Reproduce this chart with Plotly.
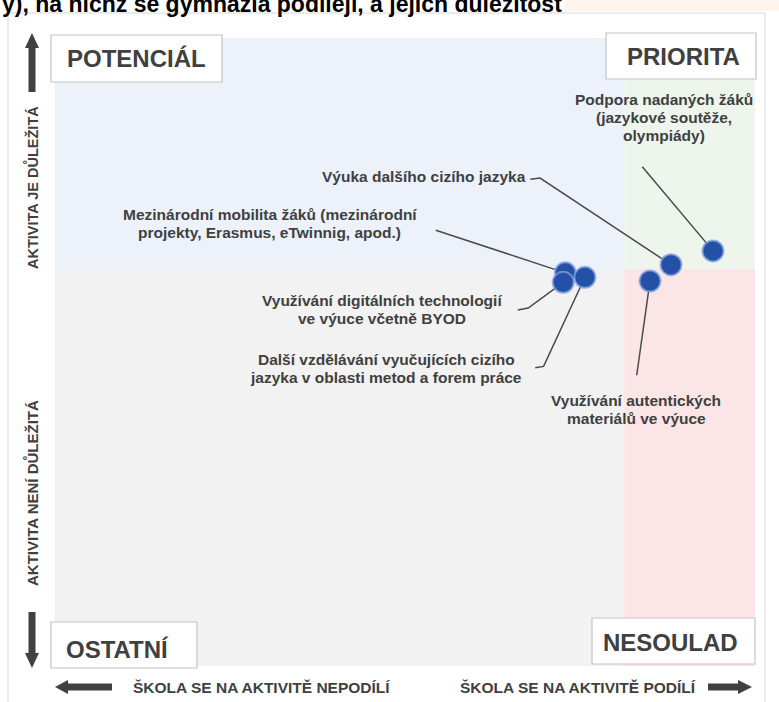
import plotly.graph_objs as go

# activities (x = share of schools taking part, y = importance)
activities = ['Mezinárodní mobilita žáků (mezinárodní<br>projekty, Erasmus, eTwinnig, apod.)',
    'Využívání digitálních technologií<br>ve výuce včetně BYOD',
    'Další vzdělávání vyučujících cizího<br>jazyka v oblasti metod a forem práce',
    'Využívání autentických<br>materiálů ve výuce',
    'Výuka dalšího cizího jazyka',
    'Podpora nadaných žáků<br>(jazykové soutěže,<br>olympiády)']
participation = [72.9, 72.6, 75.7, 85.0, 88.0, 94.0]
importance = [62.6, 61.1, 61.9, 61.3, 63.9, 66.1]

split_x = 81.3
split_y = 63.2

quadrants = ['POTENCIÁL', 'PRIORITA', 'OSTATNÍ', 'NESOULAD']
axis_labels = ['AKTIVITA JE DŮLEŽITÁ', 'AKTIVITA NENÍ DŮLEŽITÁ',
    'ŠKOLA SE NA AKTIVITĚ NEPODÍLÍ', 'ŠKOLA SE NA AKTIVITĚ PODÍLÍ']
title = 'y), na nichž se gymnázia podílejí, a jejich důležitost'

# label placement: (x, y, xanchor) and leader line start (data units)
label_pos = [(30.7, 70.5, 'center'), (46.7, 56.7, 'center'), (47.3, 47.3, 'center'),
             (83.0, 40.9, 'center'), (67.6, 77.9, 'right'), (87.0, 87.3, 'center')]
leader_start = [[(54.4, 69.4)],
                [(66.1, 56.7), (67.6, 57.0)],
                [(68.6, 47.5), (69.8, 47.7)],
                [(83.1, 46.3)],
                [(67.9, 77.5), (69.3, 77.7)],
                [(83.9, 79.5)]]
line_gap = 18  # px between label lines

W, H = 779, 702
L, R, T, B = 55, 755, 38, 666
FONT = 'Liberation Sans, Arial, sans-serif'
DARK = '#404040'


def px(x):
    return (x - L) / (R - L)


def py(y):
    return (B - y) / (B - T)


def path(pts):
    return 'M ' + ' L '.join('%.4f,%.4f' % (px(a), py(b)) for a, b in pts) + ' Z'


data = []
for i in range(len(activities)):
    xs = [p[0] for p in leader_start[i]] + [participation[i]]
    ys = [p[1] for p in leader_start[i]] + [importance[i]]
    data.append(go.Scatter(x=xs, y=ys, mode='lines', hoverinfo='skip',
                           line=dict(color='#4a4a4a', width=1.5)))
data.append(go.Scatter(x=participation, y=importance, mode='markers',
                       text=activities, hoverinfo='text',
                       marker=dict(size=21, color='#2451a6',
                                   line=dict(color='rgba(130,160,225,0.75)', width=2))))

shapes = [
    dict(type='rect', xref='x', yref='y', x0=0, x1=split_x, y0=split_y, y1=100,
         fillcolor='#edf2fa', line=dict(width=0), layer='below'),
    dict(type='rect', xref='x', yref='y', x0=split_x, x1=100, y0=split_y, y1=100,
         fillcolor='#eef5ec', line=dict(width=0), layer='below'),
    dict(type='rect', xref='x', yref='y', x0=0, x1=split_x, y0=0, y1=split_y,
         fillcolor='#f2f2f2', line=dict(width=0), layer='below'),
    dict(type='rect', xref='x', yref='y', x0=split_x, x1=100, y0=0, y1=split_y,
         fillcolor='#fce5e6', line=dict(width=0), layer='below'),
    # outer frame and title strip
    dict(type='rect', xref='paper', yref='paper', x0=px(565), x1=px(779), y0=py(11), y1=py(0),
         fillcolor='#fdf5ec', line=dict(width=0), layer='below'),
    dict(type='rect', xref='paper', yref='paper', x0=px(8), x1=px(765), y0=py(712), y1=py(13),
         fillcolor='rgba(0,0,0,0)', line=dict(color='#d6d6d6', width=1)),
]

# quadrant name boxes
boxes = [(51, 222, 35, 82), (606, 756, 33, 79), (51, 197, 622, 668), (592, 755, 618, 664)]
for x0, x1, y0, y1 in boxes:
    shapes.append(dict(type='rect', xref='paper', yref='paper', x0=px(x0), x1=px(x1),
                       y0=py(y1), y1=py(y0), fillcolor='white',
                       line=dict(color='#c4c4c4', width=1.2)))

# thick arrows
arrows = [((32, 92), (32, 45), [(25, 48), (39, 48), (32, 33)]),
          ((32, 612), (32, 655), [(25, 653), (39, 653), (32, 668)]),
          ((112, 687), (66, 687), [(68, 680), (68, 694), (55, 687)]),
          ((708, 687), (740, 687), [(738, 680), (738, 694), (752, 687)])]
for a, b, tri in arrows:
    shapes.append(dict(type='line', xref='paper', yref='paper', x0=px(a[0]), y0=py(a[1]),
                       x1=px(b[0]), y1=py(b[1]), line=dict(color=DARK, width=7)))
    shapes.append(dict(type='path', xref='paper', yref='paper', path=path(tri),
                       fillcolor=DARK, line=dict(width=0)))

annotations = []
unit_y = 100 / (B - T)  # data units per pixel
for i in range(len(activities)):
    lx, ly, anchor = label_pos[i]
    lines = activities[i].split('<br>')
    for k, txt in enumerate(lines):
        yk = ly - (k - (len(lines) - 1) / 2) * line_gap * unit_y
        annotations.append(dict(x=lx, y=yk, xref='x', yref='y', text=txt,
                                showarrow=False, xanchor=anchor, yanchor='middle',
                                font=dict(family=FONT, size=15.5, color=DARK, weight='bold')))

box_text = [(65, 58, 'left'), (742, 56, 'right'), (64, 649, 'left'), (740, 642, 'right')]
for (x, y, anchor), name in zip(box_text, quadrants):
    annotations.append(dict(x=px(x), y=py(y), xref='paper', yref='paper', text=name,
                            showarrow=False, xanchor=anchor, yanchor='middle',
                            font=dict(family=FONT, size=24, color=DARK, weight='bold')))

side_pos = [(32, 188, -90, 14.5), (32, 493, -90, 15), (261, 687, 0, 15.5), (578, 687, 0, 15.5)]
for (x, y, ang, size), name in zip(side_pos, axis_labels):
    annotations.append(dict(x=px(x), y=py(y), xref='paper', yref='paper', text=name,
                            showarrow=False, textangle=ang, xanchor='center', yanchor='middle',
                            font=dict(family=FONT, size=size, color=DARK, weight='bold')))

annotations.append(dict(x=px(0), y=py(4), xref='paper', yref='paper', text=title,
                        showarrow=False, xanchor='left', yanchor='middle',
                        font=dict(family=FONT, size=23, color='black', weight='bold')))

layout = go.Layout(width=W, height=H,
                   showlegend=False,
                   hovermode='closest',
                   paper_bgcolor='white',
                   plot_bgcolor='rgba(0,0,0,0)',
                   margin=dict(l=L, r=W - R, t=T, b=H - B, pad=0),
                   xaxis=dict(range=[0, 100], visible=False, fixedrange=True),
                   yaxis=dict(range=[0, 100], visible=False, fixedrange=True),
                   shapes=shapes,
                   annotations=annotations)

fig = go.Figure(data=data, layout=layout)
# drop the browser's default body margin so the figure sits at the page corner
fig.write_html('out.html', config={'displayModeBar': False},
               post_script="document.body.style.margin='0px';")
